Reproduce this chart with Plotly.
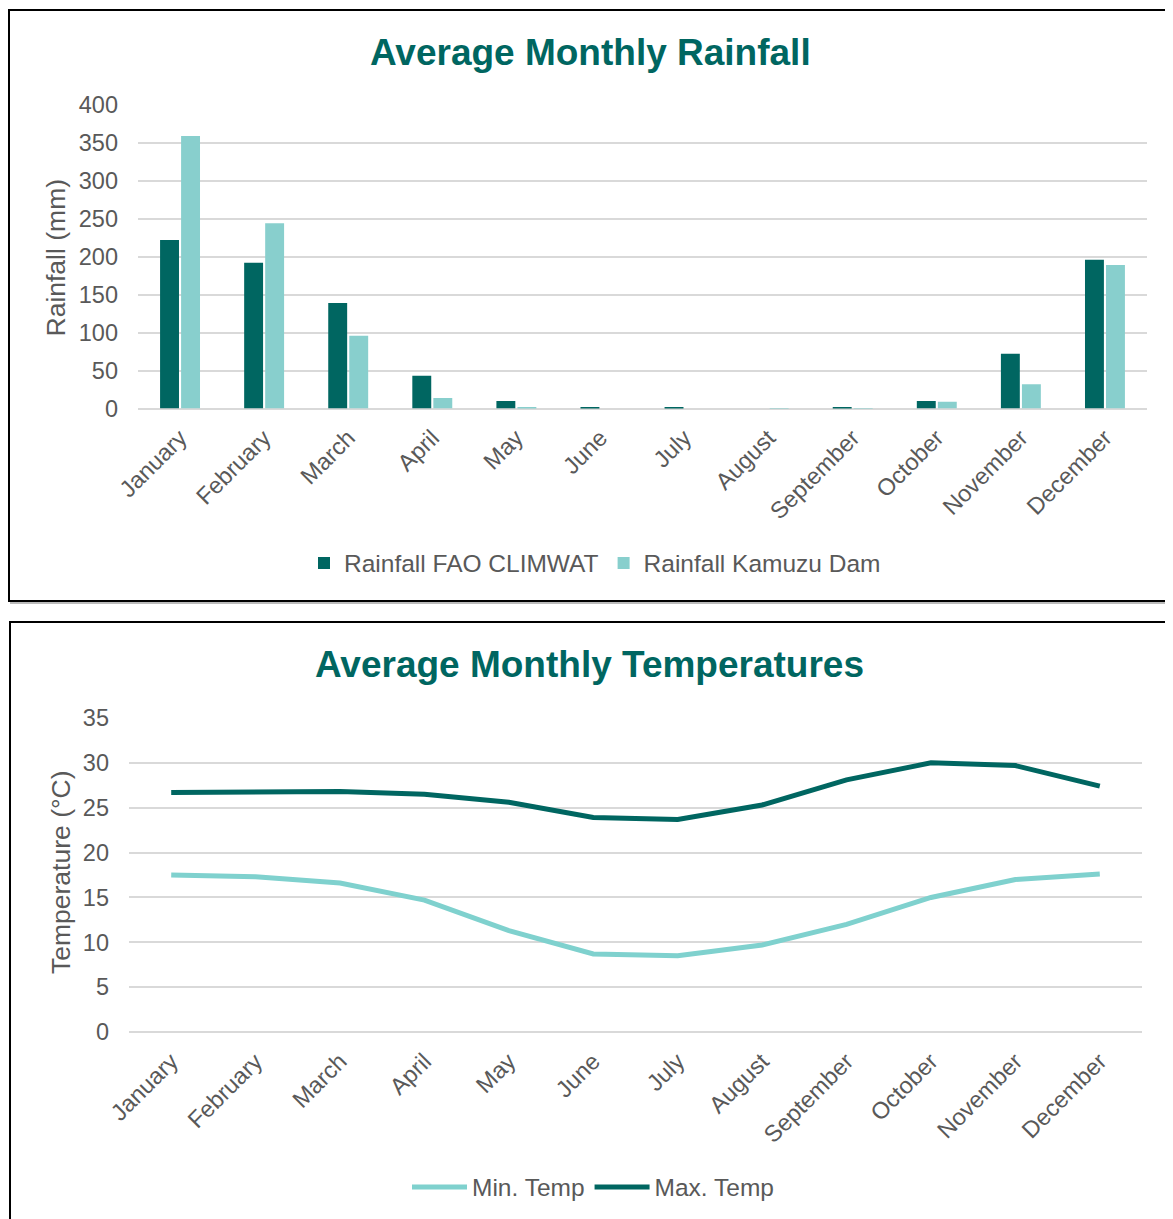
import plotly.graph_objects as go

months = ["January", "February", "March", "April", "May", "June", "July",
          "August", "September", "October", "November", "December"]

rain_fao = [222, 192, 139, 43, 10, 1, 1, 0, 1, 10, 72, 196]
rain_kamuzu = [359, 244, 96, 14, 2, 0, 0, 0.5, 0.5, 9, 32, 189]

temp_min = [17.5, 17.3, 16.6, 14.7, 11.3, 8.7, 8.5, 9.7, 12.0, 15.0, 17.0, 17.6]
temp_max = [26.7, 26.7, 26.8, 26.5, 25.6, 23.9, 23.7, 25.3, 28.1, 30.0, 29.7, 27.4]

rain_ticks = [0, 50, 100, 150, 200, 250, 300, 350, 400]
temp_ticks = [0, 5, 10, 15, 20, 25, 30, 35]

DARK = "#006661"
LIGHT = "#88CFCD"
LINE_LIGHT = "#7FD1CE"
GRID = "#D9D9D9"
TXT = "#595959"
FONT = "Liberation Sans, Arial, sans-serif"

W, H = 1173, 1219
OFF = 8  # page body margin


def px(x):
    return (x - OFF) / W


def py(y):
    return 1 - (y - OFF) / H


fig = go.Figure()

fig.add_trace(go.Bar(x=months, y=rain_fao, name="Rainfall FAO CLIMWAT",
                     marker=dict(color=DARK, line=dict(width=0)),
                     xaxis="x", yaxis="y", legend="legend"))
fig.add_trace(go.Bar(x=months, y=rain_kamuzu, name="Rainfall Kamuzu Dam",
                     marker=dict(color=LIGHT, line=dict(width=0)),
                     xaxis="x", yaxis="y", legend="legend"))

fig.add_trace(go.Scatter(x=months, y=temp_min, name="Min. Temp", mode="lines",
                         line=dict(color=LINE_LIGHT, width=5),
                         xaxis="x2", yaxis="y2", legend="legend2"))
fig.add_trace(go.Scatter(x=months, y=temp_max, name="Max. Temp", mode="lines",
                         line=dict(color=DARK, width=5),
                         xaxis="x2", yaxis="y2", legend="legend2"))

tickfont = dict(family=FONT, size=23.5, color=TXT)

fig.update_layout(
    width=W, height=H, autosize=False,
    margin=dict(l=0, r=0, t=0, b=0, pad=0, autoexpand=False),
    paper_bgcolor="white", plot_bgcolor="white",
    font=dict(family=FONT, color=TXT),
    barmode="group", bargap=0.5, bargroupgap=0.1,
    xaxis=dict(domain=[px(138), px(1147)], anchor="y", type="category",
               tickangle=-45, tickfont=tickfont, showgrid=False,
               showline=False, ticks="", ticklabelstandoff=10,
               range=[-0.5, 11.5], automargin=False),
    yaxis=dict(domain=[py(408.5), py(105)], anchor="x", range=[0, 400],
               tickvals=rain_ticks, tickfont=tickfont, showgrid=True,
               gridcolor=GRID, gridwidth=1.7, zeroline=True,
               zerolinecolor=GRID, zerolinewidth=1.7, showline=False,
               ticks="", ticklabelstandoff=19, automargin=False),
    xaxis2=dict(domain=[px(129), px(1142)], anchor="y2", type="category",
                tickangle=-45, tickfont=tickfont, showgrid=False,
                showline=False, ticks="", ticklabelstandoff=10,
                range=[-0.5, 11.5], automargin=False),
    yaxis2=dict(domain=[py(1032), py(718)], anchor="x2", range=[0, 35],
                tickvals=temp_ticks, tickfont=tickfont, showgrid=True,
                gridcolor=GRID, gridwidth=1.7, zeroline=True,
                zerolinecolor=GRID, zerolinewidth=1.7, showline=False,
                ticks="", ticklabelstandoff=19, automargin=False),
    legend=dict(orientation="h", x=px(595), y=py(563), xanchor="center",
                yanchor="middle", font=dict(family=FONT, size=24.5, color=TXT),
                bgcolor="rgba(0,0,0,0)", traceorder="normal"),
    legend2=dict(orientation="h", x=px(593), y=py(1187), xanchor="center",
                 yanchor="middle", font=dict(family=FONT, size=24.5, color=TXT),
                 bgcolor="rgba(0,0,0,0)", traceorder="normal", itemwidth=55),
    showlegend=True,
)

fig.add_annotation(text="<b>Average Monthly Rainfall</b>", x=px(590), y=py(52),
                   xref="paper", yref="paper", showarrow=False,
                   xanchor="center", yanchor="middle",
                   font=dict(family=FONT, size=37, color=DARK))
fig.add_annotation(text="<b>Average Monthly Temperatures</b>", x=px(589.5), y=py(664),
                   xref="paper", yref="paper", showarrow=False,
                   xanchor="center", yanchor="middle",
                   font=dict(family=FONT, size=37, color=DARK))
fig.add_annotation(text="Rainfall (mm)", x=px(56), y=py(257.5),
                   xref="paper", yref="paper", showarrow=False, textangle=-90,
                   xanchor="center", yanchor="middle",
                   font=dict(family=FONT, size=26.5, color=TXT))
fig.add_annotation(text="Temperature (°C)", x=px(61), y=py(872),
                   xref="paper", yref="paper", showarrow=False, textangle=-90,
                   xanchor="center", yanchor="middle",
                   font=dict(family=FONT, size=26.5, color=TXT))

# chart frames (with a faint shadow like the original)
fig.add_shape(type="rect", xref="paper", yref="paper",
              x0=px(11), x1=px(1190), y0=py(603), y1=py(12),
              line=dict(color="#BBBBBB", width=2), fillcolor="rgba(0,0,0,0)", layer="below")
fig.add_shape(type="rect", xref="paper", yref="paper",
              x0=px(9), x1=px(1185), y0=py(601), y1=py(10),
              line=dict(color="black", width=2), fillcolor="white", layer="below")
fig.add_shape(type="rect", xref="paper", yref="paper",
              x0=px(12), x1=px(1172), y0=py(1240), y1=py(624),
              line=dict(color="#BBBBBB", width=2), fillcolor="rgba(0,0,0,0)", layer="below")
fig.add_shape(type="rect", xref="paper", yref="paper",
              x0=px(10), x1=px(1170), y0=py(1235), y1=py(622),
              line=dict(color="black", width=2), fillcolor="white", layer="below")

fig.write_html("out.html")
